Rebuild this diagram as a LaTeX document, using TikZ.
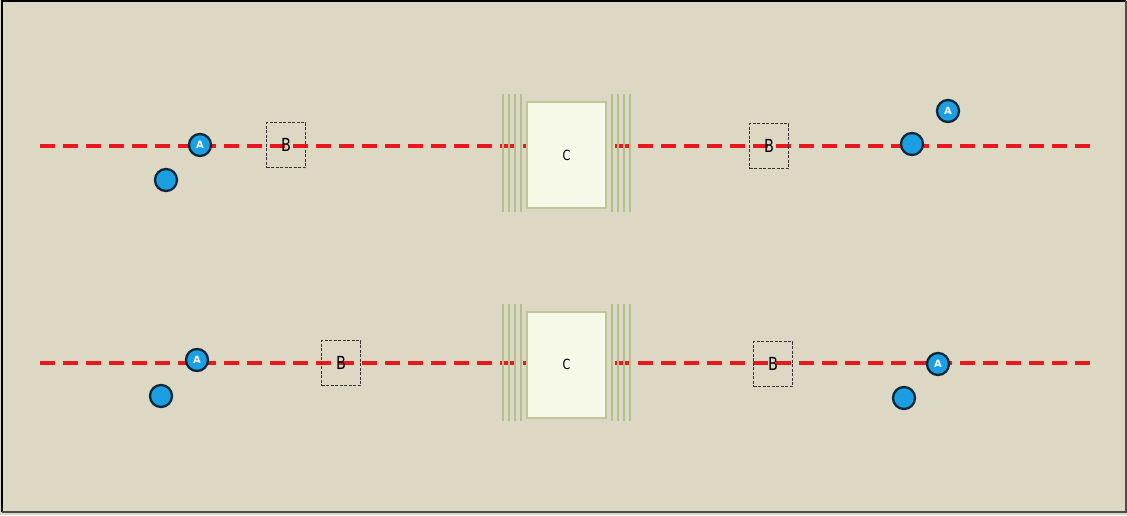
\documentclass[tikz,border=0pt]{standalone}
\usepackage{fontspec}
\usepackage{graphicx}
\setsansfont{DejaVu Sans}
\newcommand{\narrowtxt}[1]{\scalebox{0.8}[1]{#1}}
\begin{document}
\begin{tikzpicture}[x=1pt,y=-1pt,
  redline/.style={draw={rgb,255:red,232;green,24;blue,30}, line width=3.5pt, dash pattern=on 15pt off 8pt},
  acirc/.style={circle, draw={rgb,255:red,10;green,40;blue,60}, line width=2.3pt, fill={rgb,255:red,26;green,160;blue,226}, minimum size=22pt, inner sep=0pt, text=white, font=\sffamily\bfseries\fontsize{10}{10}\selectfont},
  pcirc/.style={circle, draw={rgb,255:red,10;green,40;blue,60}, line width=2.3pt, fill={rgb,255:red,26;green,160;blue,226}, minimum size=22pt, inner sep=0pt},
  bbox/.style={draw=black!80, dash pattern=on 3pt off 1.5pt, line width=1.2pt, minimum width=39pt, minimum height=45pt, inner sep=0pt, font=\sffamily\fontsize{18}{18}\selectfont},
  cbox/.style={draw={rgb,255:red,190;green,200;blue,150}, line width=2pt, fill={rgb,255:red,246;green,249;blue,232}, minimum width=79pt, minimum height=106pt, inner sep=0pt, font=\sffamily\fontsize{14}{14}\selectfont},
  sideline/.style={draw={rgb,255:red,180;green,192;blue,140}, line width=1.4pt}
]
\definecolor{bg}{RGB}{221,216,196}
\useasboundingbox (0,0) rectangle (1127,515);
\fill[bg] (0,0) rectangle (1127,515);
\draw[black, line width=2pt] (2,512) -- (2,1) -- (1126,1);
\draw[black!70, line width=2pt] (2,512) -- (1126,512) -- (1126,1);

% row 1
\coordinate (l1s) at (40,146);
\coordinate (l1e) at (1095,146);
\path[redline] (l1s) -- (l1e);
\foreach \xx in {503,509,515,521,612,618,624,630}{
  \draw[sideline] (\xx,94) -- (\xx,212);
}
\node[cbox] (c1) at (566.5,155) {\narrowtxt{C}};
\node[bbox] (b1) at (286,145) {\narrowtxt{B}};
\node[bbox] (b2) at (769,146) {\narrowtxt{B}};
\node[acirc] (a1) at (200,145) {A};
\node[pcirc] (p1) at (166,180) {};
\node[pcirc] (p2) at (912,144) {};
\node[acirc] (a2) at (948,111) {A};

% row 2
\coordinate (l2s) at (40,363);
\coordinate (l2e) at (1095,363);
\path[redline] (l2s) -- (l2e);
\foreach \xx in {503,509,515,521,612,618,624,630}{
  \draw[sideline] (\xx,304) -- (\xx,421);
}
\node[cbox] (c2) at (566.5,364.5) {\narrowtxt{C}};
\node[bbox] (b3) at (341,363) {\narrowtxt{B}};
\node[bbox] (b4) at (773,364) {\narrowtxt{B}};
\node[acirc] (a3) at (197,360) {A};
\node[pcirc] (p3) at (161,396) {};
\node[acirc] (a4) at (938,364) {A};
\node[pcirc] (p4) at (904,398) {};
\end{tikzpicture}
\end{document}
